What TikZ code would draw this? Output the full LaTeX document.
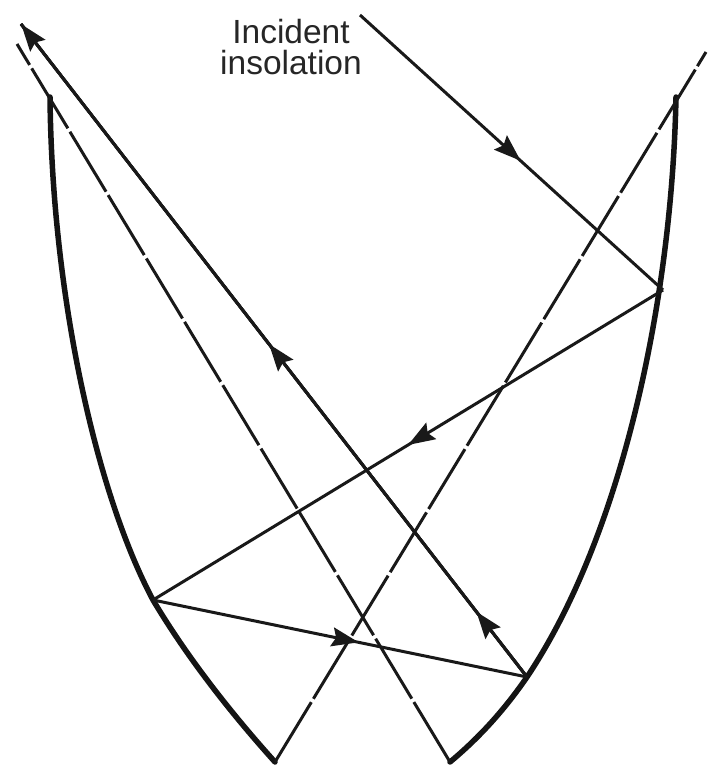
\documentclass[tikz,border=0pt]{standalone}
\usepackage{fontspec}
\setmainfont{Liberation Sans}
\usetikzlibrary{arrows.meta,decorations.markings}
\tikzset{
  ray/.style={line width=3pt,black!90},
  wall/.style={line width=5.5pt,black!92,line cap=round},
  aperture/.style={line width=3pt,black!90,dash pattern=on 70pt off 4pt},
  headat/.style={postaction={decorate,decoration={markings,mark=at position #1 with {\arrow{Stealth[length=27pt,width=19pt,inset=4pt]}}}}},
  label/.style={align=center,font=\fontsize{33.5}{31}\selectfont,inner sep=0pt,text=black!85}
}
\begin{document}
\begin{tikzpicture}[x=1pt,y=-1pt]
\useasboundingbox (0,0) rectangle (709,765);
\coordinate (lt) at (50,97);
\coordinate (lb) at (275,762);
\coordinate (rt) at (676,97);
\coordinate (rb) at (450,762);
\coordinate (ltext) at (17,44);
\coordinate (rtext) at (706,52);
\coordinate (in) at (360,15);
\coordinate (p1) at (663,290);
\coordinate (p2) at (153,600);
\coordinate (p3) at (527,677);
\coordinate (out) at (21,24);
% walls
\draw[wall] (lt) .. controls (52,300) and (98,497) .. (p2) .. controls (187,657) and (230,712) .. (lb);
\draw[wall] (rt) .. controls (672,300) and (622,535) .. (p3) .. controls (505,709) and (480,737) .. (rb);
% aperture lines
\draw[aperture] (lb) -- (rtext);
\draw[aperture] (rb) -- (ltext);
% rays
\draw[ray,headat=0.53] (in) -- (p1);
\draw[ray,headat=0.50] (p1) -- (p2);
\draw[ray,headat=0.55] (p2) -- (p3);
\draw[ray,headat=0.10] (p3) -- (out);
\draw[ray,headat=0.51] (p3) -- (out);
\draw[ray,headat=1] (p3) -- (out);
\node[label] (lab) at (291,47) {Incident\\insolation};
\end{tikzpicture}
\end{document}
